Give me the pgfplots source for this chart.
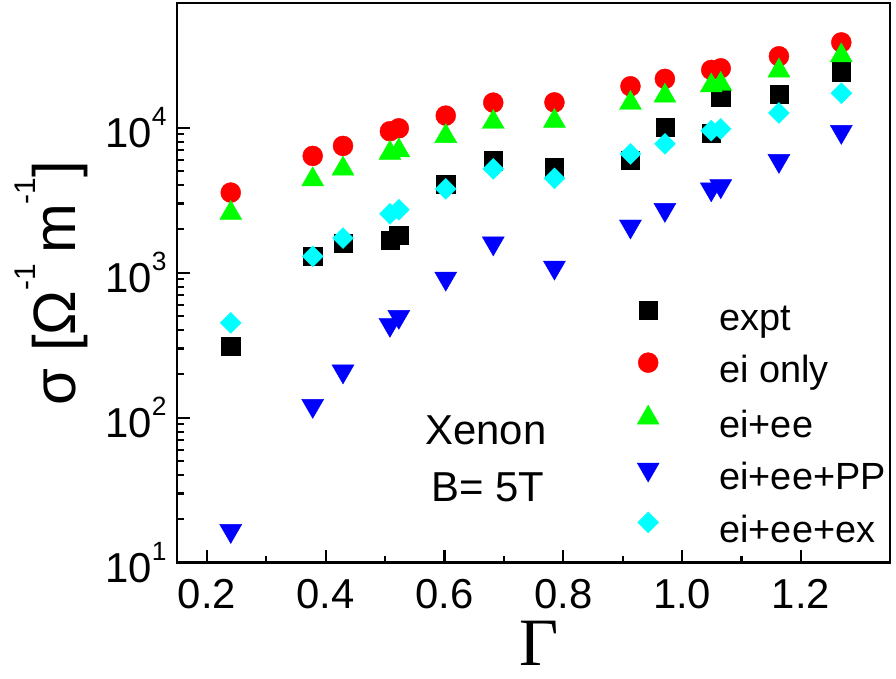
\documentclass[border=0pt]{standalone}
\usepackage{fontspec}
\setmainfont{Liberation Sans}
\newfontfamily\seriffont{Liberation Serif}
\usepackage{pgfplots}
\pgfplotsset{compat=1.18}

\definecolor{cRed}{RGB}{255,0,0}
\definecolor{cGreen}{RGB}{0,255,0}
\definecolor{cBlue}{RGB}{0,0,255}
\definecolor{cCyan}{RGB}{0,255,255}

% superscripts for tick labels and the axis label
\newcommand\tsup[1]{\raisebox{21.7bp}{\fontsize{26.5}{26.5}\selectfont #1}}
\newcommand\lsup[1]{\raisebox{40bp}{\fontsize{30}{30}\selectfont #1}}

\pgfplotsset{
  pt/.style={only marks,
    legend image code/.code={%
      \path (-12bp,0bp) (71bp,0bp);
      \draw[##1] plot coordinates {(0bp,10bp)};}},
}

\begin{document}
\begin{tikzpicture}
\begin{axis}[
  scale only axis,
  width=712.7bp, height=559.4bp,
  xmin=0.15, xmax=1.35,
  ymode=log, ymin=10, ymax=7.2e4,
  axis line style={line width=2.4bp},
  every tick/.style={line width=2.2bp, black},
  major tick length=12.5bp, minor tick length=7bp,
  tick align=inside,
  xtick pos=bottom, ytick pos=left,
  xtick={0.2,0.4,0.6,0.8,1.0,1.2},
  minor x tick num=1,
  ytick={10,100,1000,10000},
  yticklabels={10\tsup{1},10\tsup{2},10\tsup{3},10\tsup{4}},
  xticklabel style={/pgf/number format/fixed, /pgf/number format/fixed zerofill,
    /pgf/number format/precision=1, /pgf/number format/assume math mode=true},
  tick label style={font=\fontsize{42}{42}\selectfont},
  xticklabel style={inner sep=0pt, anchor=north, yshift=-16.3bp},
  yticklabel style={inner sep=0pt, anchor=east, xshift=-10.6bp},
  xlabel={\seriffont Γ},
  xlabel style={font=\fontsize{68}{68}\selectfont, inner sep=0pt,
    at={(axis description cs:0.508,-0.1829)}, anchor=base},
  ylabel={σ [Ω\lsup{-1}\,m\lsup{-1}]},
  ylabel style={font=\fontsize{60}{60}\selectfont, inner sep=0pt,
    at={(axis description cs:-0.1249,0.5)}, anchor=south},
  legend style={draw=none, fill=none, inner sep=0pt, outer sep=0pt,
    at={(rel axis cs:0.6436,0.4678)}, anchor=north west,
    row sep=13.5bp, font=\fontsize{38}{38}\selectfont,
    nodes={inner sep=0pt, text height=29bp, text depth=9bp}},
  legend cell align=left,
]

% measured conductivity
\addplot[pt, mark=square*, mark size=9.15bp, black, mark options={draw=none, fill=black}]
coordinates {
(0.240,310) (0.378,1304) (0.429,1603) (0.508,1680) (0.523,1820)
(0.602,4090) (0.682,5920) (0.785,5320) (0.913,5985) (0.971,10050)
(1.049,9140) (1.065,16200) (1.163,17070) (1.268,24300)};
\addlegendentry{expt}

% electron-ion collisions only
\addplot[pt, mark=*, mark size=10bp, cRed, mark options={draw=none, fill=cRed}]
coordinates {
(0.240,3565) (0.378,6380) (0.429,7480) (0.508,9440) (0.523,9890)
(0.602,12100) (0.682,14870) (0.785,14930) (0.913,19280) (0.971,21680)
(1.049,24990) (1.065,25630) (1.163,31050) (1.268,38700)};
\addlegendentry{ei only}

% electron-ion plus electron-electron
\addplot[pt, mark=triangle*, mark size=12.7bp, cGreen, mark options={draw=none, fill=cGreen}]
coordinates {
(0.240,2571) (0.378,4385) (0.429,5200) (0.508,6673) (0.523,6949)
(0.602,8726) (0.682,10913) (0.785,11093) (0.913,14753) (0.971,16559)
(1.049,19487) (1.065,19952) (1.163,24677) (1.268,31369)};
\addlegendentry{ei+ee}

% with pressure ionization / partition function effects
\addplot[pt, mark=triangle*, mark size=12.7bp, cBlue, mark options={draw=none, fill=cBlue, rotate=180}]
coordinates {
(0.240,16.6) (0.378,121) (0.429,209) (0.508,438) (0.523,497)
(0.602,912) (0.682,1596) (0.785,1086) (0.913,2086) (0.971,2716)
(1.049,3766) (1.065,3956) (1.163,5912) (1.268,9373)};
\addlegendentry{ei+ee+PP}

% with exchange corrections
\addplot[pt, mark=square*, mark size=7.4bp, cCyan, mark options={draw=none, fill=cCyan, rotate=45}]
coordinates {
(0.240,450) (0.378,1295) (0.429,1733) (0.508,2543) (0.523,2716)
(0.602,3780) (0.682,5190) (0.785,4470) (0.913,6590) (0.971,7730)
(1.049,9530) (1.065,9790) (1.163,12620) (1.268,17260)};
\addlegendentry{ei+ee+ex}

\node[anchor=base, inner sep=0pt, font=\fontsize{42}{42}\selectfont]
  at (rel axis cs:0.4331,0.2104) {Xenon};
\node[anchor=base, inner sep=0pt, font=\fontsize{42}{42}\selectfont]
  at (rel axis cs:0.436,0.109) {B= 5T};
\end{axis}
\pgfresetboundingbox
\path (-177.3bp,-116.3bp) rectangle (718.7bp,562.7bp);
\end{tikzpicture}
\end{document}
